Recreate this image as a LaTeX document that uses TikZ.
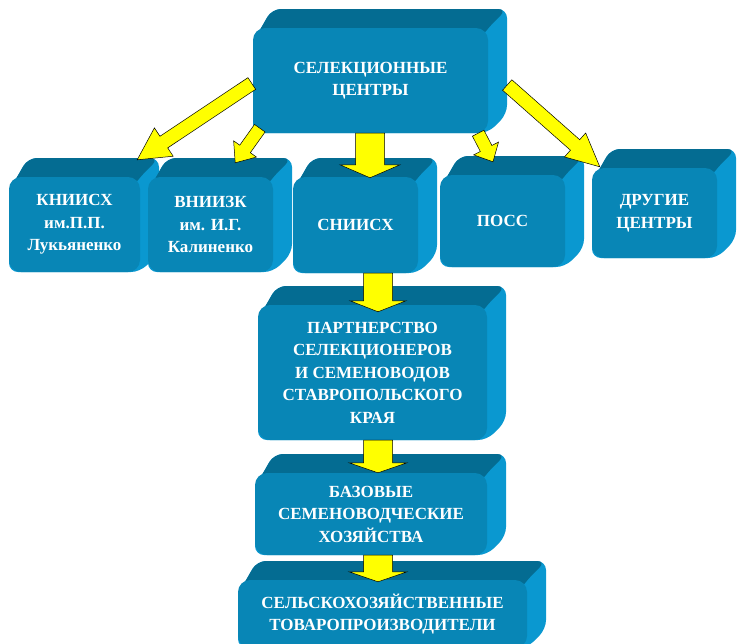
\documentclass[tikz,border=0pt]{standalone}
\usepackage{fontspec}
\setmainfont{Liberation Serif}
\usetikzlibrary{calc}
\definecolor{frontc}{RGB}{8,134,182}
\definecolor{topc}{RGB}{4,108,146}
\definecolor{sidec}{RGB}{10,152,208}
\definecolor{arry}{RGB}{255,255,0}
\newcommand\dd{19}
\tikzset{
  frontbox/.style={rectangle, rounded corners=12pt, fill=frontc, text=white,
    font=\bfseries\fontsize{17}{22.5}\selectfont, align=center, inner sep=0pt},
  arrowstyle/.style={draw=black, fill=arry, line width=0.5pt, line join=miter}
}
\newcommand\block[6]{%
  \fill[sidec, rounded corners=9pt] (#2,#3+14) -- (#2+\dd,#3-\dd) -- (#4+\dd,#3-\dd) -- (#4+\dd,#5-\dd) -- (#4,#5) -- (#2,#5) -- cycle;
  \fill[topc, rounded corners=9pt] (#2,#3+14) -- (#2+\dd,#3-\dd) -- (#4+\dd,#3-\dd) -- (#4,#3) -- (#4-10,#3+14) -- cycle;
  \node[frontbox, minimum width={(#4-#2)*1pt}, minimum height={(#5-#3)*1pt}] (#1) at ({(#2+#4)/2},{(#3+#5)/2}) {#6};
}
\newcommand\yarrow[5]{%
  \coordinate (hb) at ($(#2)!#5pt!(#1)$);
  \draw[arrowstyle] ($(#1)!#3pt!90:(#2)$) -- ($(hb)!#3pt!90:(#2)$) -- ($(hb)!#4pt!90:(#2)$) -- (#2) -- ($(hb)!#4pt!-90:(#2)$) -- ($(hb)!#3pt!-90:(#2)$) -- ($(#1)!#3pt!-90:(#2)$) -- cycle;
}
\begin{document}
\begin{tikzpicture}[x=1pt,y=-1pt]
\useasboundingbox (0,0) rectangle (739,643);
\clip (0,0) rectangle (739,643);
\fill[white] (0,0) rectangle (739,643);

\block{kn}{9}{177}{140}{272}{КНИИСХ\\им.П.П.\\Лукьяненко}
\block{vn}{148}{177}{273}{272}{ВНИИЗК\\им. И.Г.\\Калиненко}
\block{sn}{293}{177}{418}{273}{СНИИСХ}
\block{poss}{440}{175}{565}{267}{ПОСС}
\block{dr}{592}{168}{717}{258}{ДРУГИЕ\\ЦЕНТРЫ}
\block{sel}{253}{28}{488}{133}{СЕЛЕКЦИОННЫЕ\\ЦЕНТРЫ}
\block{part}{258}{305}{487}{440}{ПАРТНЕРСТВО\\СЕЛЕКЦИОНЕРОВ\\И СЕМЕНОВОДОВ\\СТАВРОПОЛЬСКОГО\\КРАЯ}
\block{baz}{255}{473}{487}{555}{БАЗОВЫЕ\\СЕМЕНОВОДЧЕСКИЕ\\ХОЗЯЙСТВА}
\block{selh}{238}{580}{527}{648}{СЕЛЬСКОХОЗЯЙСТВЕННЫЕ\\ТОВАРОПРОИЗВОДИТЕЛИ}

% connectors
\coordinate (s1) at ($(sel.west)+(-1,3)$);
\coordinate (t1) at ($(kn.north east)+(-3,-17)$);
\coordinate (s2) at ($(sel.south west)+(7,-5)$);
\coordinate (t2) at ($(vn.north east)+(-38,-14)$);
\coordinate (s3) at ($(sel.south)+(-0.5,0)$);
\coordinate (t3) at ($(sn.north)+(14.5,1)$);
\coordinate (s4) at ($(sel.south east)+(-10,0)$);
\coordinate (t4) at ($(poss.north)+(-9.5,-13)$);
\coordinate (s5) at ($(sel.east)+(19,4.5)$);
\coordinate (t5) at ($(dr.north west)+(8,-1)$);
\coordinate (s6) at ($(sn.south)+(22.5,0)$);
\coordinate (t6) at ($(part.north)+(5.5,7)$);
\coordinate (s7) at ($(part.south)+(5.5,0)$);
\coordinate (t7) at ($(baz.north)+(7,0)$);
\coordinate (s8) at ($(baz.south)+(7,0)$);
\coordinate (t8) at ($(selh.north)+(-4.5,2)$);

\yarrow{s1}{t1}{7}{17}{32}
\yarrow{s2}{t2}{6.5}{14}{17}
\yarrow{s3}{t3}{14.5}{30}{13}
\yarrow{s4}{t4}{6.5}{14}{15}
\yarrow{s5}{t5}{7}{16}{33}
\yarrow{s6}{t6}{14.5}{28}{11}
\yarrow{s7}{t7}{14.5}{29}{10}
\yarrow{s8}{t8}{14.5}{29}{10}
\end{tikzpicture}
\end{document}
